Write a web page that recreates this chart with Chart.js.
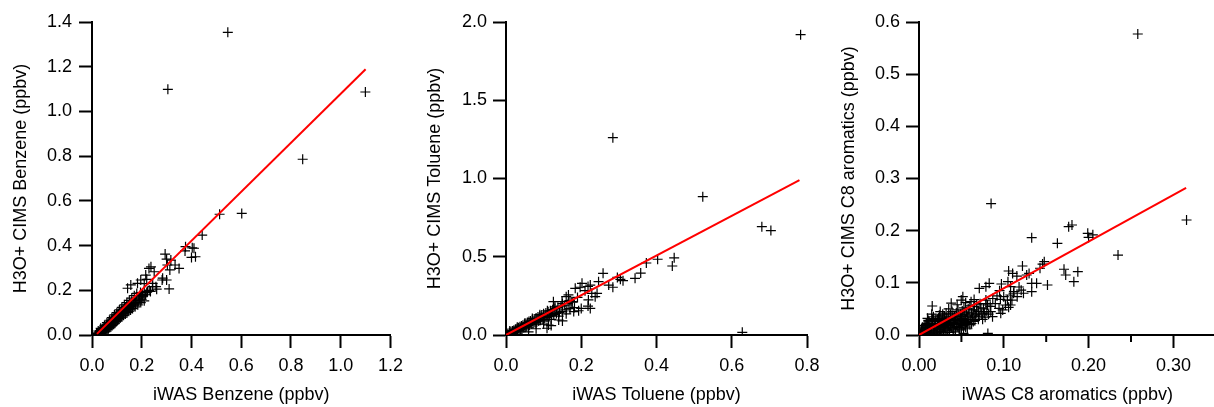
<!DOCTYPE html>
<html>
<head>
<meta charset="utf-8">
<script src="https://cdn.jsdelivr.net/npm/chart.js@4/dist/chart.umd.min.js"></script>
<style>
html,body{margin:0;padding:0;background:#fff;width:1214px;height:407px;overflow:hidden;position:relative;}
canvas{position:absolute;top:0;}
</style>
</head>
<body>
<canvas id="c1" width="410" height="407" style="left:0px"></canvas>
<canvas id="c2" width="420" height="407" style="left:410px"></canvas>
<canvas id="c3" width="402" height="407" style="left:820px"></canvas>
<script>
// ---------- Panel 1: Benzene ----------
const benzeneTitleX = "iWAS Benzene (ppbv)";
const benzeneTitleY = "H3O+ CIMS Benzene (ppbv)";
const benzeneXTicks = [0, 0.2, 0.4, 0.6, 0.8, 1.0, 1.2];
const benzeneYTicks = [0, 0.2, 0.4, 0.6, 0.8, 1.0, 1.2, 1.4];
const benzeneDense = [
[0.015,0.0],[0.018,0.006],[0.02,-0.002],[0.022,0.008],[0.024,0.002],[0.026,0.01],[0.027,0.0],[0.029,0.006],[0.03,0.015],[0.032,0.003],
[0.033,0.018],[0.035,0.008],[0.036,0.022],[0.038,0.013],[0.04,0.004],[0.041,0.026],[0.043,0.017],[0.045,0.03],[0.046,0.01],[0.048,0.022],
[0.05,0.034],[0.051,0.017],[0.053,0.027],[0.055,0.038],[0.056,0.018],[0.058,0.031],[0.06,0.045],[0.061,0.025],[0.063,0.037],[0.065,0.049],
[0.066,0.028],[0.068,0.041],[0.07,0.056],[0.071,0.033],[0.073,0.045],[0.075,0.06],[0.076,0.037],[0.078,0.05],[0.08,0.066],[0.081,0.042],
[0.083,0.056],[0.085,0.072],[0.087,0.048],[0.088,0.063],[0.09,0.078],[0.092,0.053],[0.094,0.069],[0.095,0.083],[0.097,0.06],[0.099,0.075],
[0.1,0.09],[0.102,0.065],[0.104,0.082],[0.106,0.096],[0.108,0.071],[0.11,0.088],[0.112,0.101],[0.114,0.077],[0.116,0.093],[0.118,0.108],
[0.12,0.08],[0.122,0.098],[0.125,0.114],[0.127,0.088],[0.129,0.105],[0.132,0.12],[0.134,0.094],[0.136,0.111],[0.139,0.127],[0.141,0.1],
[0.143,0.118],[0.146,0.134],[0.148,0.106],[0.15,0.124],[0.153,0.14],[0.155,0.112],[0.158,0.131],[0.16,0.147],[0.163,0.118],[0.166,0.138],
[0.17,0.155],[0.173,0.126],[0.176,0.144],[0.18,0.162],[0.184,0.135],[0.188,0.152],[0.192,0.17],[0.196,0.145],[0.2,0.16],[0.205,0.175],[0.21,0.153],
[0.025,0.018],[0.03,-0.003],[0.035,0.03],[0.04,0.016],[0.045,0.02],[0.05,0.043],[0.055,0.026],[0.06,0.055],[0.065,0.037],[0.07,0.066],
[0.075,0.048],[0.08,0.078],[0.085,0.058],[0.09,0.09],[0.095,0.066],[0.1,0.1],[0.105,0.074],[0.11,0.112],[0.115,0.085],[0.12,0.124],
[0.125,0.095],[0.13,0.135],[0.135,0.104],[0.14,0.145],[0.145,0.113],[0.15,0.155],[0.155,0.127],[0.16,0.165],[0.165,0.133],[0.17,0.176],
[0.175,0.142],[0.18,0.186],[0.19,0.17],[0.195,0.19],[0.2,0.18],[0.21,0.195],[0.215,0.18],[0.22,0.19],[0.23,0.2]
];
const benzeneSparse = [
[0.546,1.354],[0.305,1.099],[1.099,1.087],[0.847,0.786],[0.602,0.544],[0.513,0.540],[0.443,0.447],[0.376,0.395],[0.374,0.376],[0.403,0.39],
[0.41,0.388],[0.416,0.35],[0.40,0.347],[0.294,0.362],[0.30,0.339],[0.317,0.335],[0.334,0.313],[0.35,0.298],[0.303,0.313],[0.313,0.291],
[0.284,0.254],[0.30,0.246],[0.31,0.206],[0.25,0.283],[0.237,0.305],[0.244,0.231],[0.257,0.216],[0.229,0.298],[0.216,0.268],[0.196,0.246],
[0.183,0.231],[0.156,0.224],[0.143,0.209],[0.243,0.216],[0.282,0.246],[0.223,0.194],[0.203,0.179],[0.26,0.205],[0.235,0.195],[0.21,0.23],[0.22,0.249]
];
const benzeneFit = [[0.02,0.005],[1.1,1.189]];

// ---------- Panel 2: Toluene ----------
const tolueneTitleX = "iWAS Toluene (ppbv)";
const tolueneTitleY = "H3O+ CIMS Toluene (ppbv)";
const tolueneXTicks = [0, 0.2, 0.4, 0.6, 0.8];
const tolueneYTicks = [0, 0.5, 1.0, 1.5, 2.0];
const tolueneDense = [
[0.003,0.002],[0.005,0.01],[0.007,0.0],[0.009,0.015],[0.011,0.006],[0.013,0.02],[0.015,0.01],[0.017,0.026],[0.019,0.014],[0.021,0.03],
[0.023,0.018],[0.025,0.036],[0.027,0.022],[0.029,0.04],[0.031,0.028],[0.033,0.046],[0.035,0.03],[0.037,0.052],[0.039,0.036],[0.041,0.058],
[0.043,0.04],[0.045,0.062],[0.047,0.046],[0.049,0.068],[0.051,0.05],[0.053,0.074],[0.055,0.055],[0.057,0.08],[0.059,0.06],[0.061,0.086],
[0.063,0.064],[0.065,0.09],[0.067,0.07],[0.07,0.096],[0.072,0.075],[0.075,0.102],[0.077,0.08],[0.08,0.108],[0.082,0.085],[0.085,0.115],
[0.087,0.09],[0.09,0.122],[0.092,0.095],[0.095,0.128],[0.098,0.1],[0.1,0.135],[0.103,0.108],[0.106,0.14],[0.109,0.112],[0.112,0.148],
[0.115,0.118],[0.118,0.155],[0.121,0.125],[0.124,0.162],[0.127,0.13],[0.13,0.17],[0.134,0.138],[0.138,0.176],[0.142,0.145],[0.146,0.185],
[0.15,0.15],[0.155,0.19],[0.16,0.16],[0.165,0.2],[0.17,0.168],[0.176,0.21],[0.182,0.175],
[0.01,0.025],[0.02,0.005],[0.03,0.05],[0.04,0.025],[0.05,0.075],[0.06,0.045],[0.07,0.105],[0.08,0.07],[0.09,0.13],[0.1,0.09],
[0.11,0.155],[0.12,0.1],[0.13,0.18],[0.14,0.12],[0.15,0.2],[0.16,0.135],[0.17,0.22],[0.18,0.15],[0.19,0.24],[0.2,0.17],
[0.12,0.06],[0.15,0.09],[0.1,0.07],[0.08,0.04],[0.06,0.02]
];
const tolueneSparse = [
[0.783,1.919],[0.284,1.261],[0.523,0.884],[0.680,0.692],[0.704,0.667],[0.628,0.017],[0.447,0.493],[0.442,0.441],[0.403,0.484],[0.373,0.46],
[0.358,0.396],[0.343,0.362],[0.304,0.356],[0.311,0.347],[0.296,0.368],[0.258,0.394],[0.246,0.341],[0.273,0.319],[0.284,0.305],[0.242,0.266],
[0.237,0.245],[0.228,0.266],[0.224,0.319],[0.224,0.17],[0.202,0.33],[0.197,0.305],[0.218,0.31],[0.21,0.283],[0.219,0.224],[0.184,0.298],
[0.166,0.256],[0.16,0.245],[0.149,0.213],[0.175,0.213],[0.126,0.213],[0.193,0.155],[0.218,0.185],[0.14,0.096],[0.113,0.064],[0.109,0.043]
];
const tolueneFit = [[0.0,0.0],[0.78,0.99]];

// ---------- Panel 3: C8 aromatics ----------
const c8TitleX = "iWAS C8 aromatics (ppbv)";
const c8TitleY = "H3O+ CIMS C8 aromatics (ppbv)";
const c8XTicks = [0, 0.10, 0.20, 0.30];
const c8XMinorTicks = [0.05, 0.15, 0.25];
const c8YTicks = [0, 0.1, 0.2, 0.3, 0.4, 0.5, 0.6];
const c8Dense = [
[0.002,0.003],[0.003,0.012],[0.004,0.0],[0.005,0.008],[0.006,0.018],[0.007,0.004],[0.008,0.012],[0.009,0.022],[0.01,0.006],[0.011,0.015],
[0.012,0.025],[0.013,0.002],[0.014,0.01],[0.015,0.02],[0.016,0.03],[0.017,0.008],[0.018,0.016],[0.019,0.026],[0.02,0.004],[0.021,0.013],
[0.022,0.022],[0.023,0.032],[0.024,0.01],[0.025,0.018],[0.026,0.028],[0.027,0.006],[0.028,0.015],[0.029,0.024],[0.03,0.036],[0.031,0.012],
[0.032,0.02],[0.033,0.03],[0.034,0.008],[0.035,0.017],[0.036,0.027],[0.037,0.04],[0.038,0.014],[0.039,0.022],[0.04,0.033],[0.041,0.01],
[0.042,0.02],[0.043,0.03],[0.044,0.042],[0.045,0.016],[0.046,0.025],[0.047,0.036],[0.048,0.012],[0.049,0.022],[0.05,0.032],[0.051,0.046],
[0.052,0.018],[0.053,0.028],[0.054,0.04],[0.055,0.015],[0.056,0.024],[0.057,0.035],[0.058,0.05],[0.06,0.02],[0.061,0.03],[0.062,0.042],
[0.064,0.026],[0.065,0.055],[0.066,0.036],[0.068,0.046],[0.07,0.03],[0.072,0.06],[0.074,0.04],[0.076,0.05],[0.078,0.034],[0.08,0.045],
[0.001,0.006],[0.003,0.0],[0.004,0.015],[0.006,0.002],[0.007,0.01],[0.008,0.02],[0.009,0.0],[0.01,0.014],[0.011,0.028],[0.012,0.008],
[0.013,0.018],[0.014,0.004],[0.015,0.013],[0.016,0.022],[0.017,0.035],[0.018,0.006],[0.019,0.018],[0.02,0.028],[0.021,0.002],[0.022,0.01],
[0.023,0.02],[0.024,0.038],[0.025,0.006],[0.026,0.014],[0.027,0.024],[0.028,0.034],[0.029,0.004],[0.03,0.016],[0.031,0.026],[0.032,0.042],
[0.033,0.01],[0.034,0.022],[0.035,0.032],[0.036,0.005],[0.037,0.018],[0.038,0.028],[0.039,0.045],[0.04,0.012],[0.041,0.024],[0.042,0.036],
[0.043,0.006],[0.044,0.02],[0.045,0.03],[0.046,0.048],[0.047,0.014],[0.048,0.028],[0.049,0.04],[0.05,0.01],[0.051,0.025],[0.052,0.036],
[0.053,0.052],[0.054,0.02],[0.055,0.03],[0.056,0.044],[0.057,0.012],[0.058,0.026],[0.059,0.038],[0.06,0.056],[0.062,0.022],[0.063,0.034],
[0.064,0.048],[0.066,0.028],[0.067,0.04],[0.068,0.058],[0.07,0.045],[0.071,0.036],[0.073,0.052],[0.075,0.03],[0.077,0.042],[0.079,0.06],
[0.082,0.04],[0.084,0.055],[0.087,0.07],[0.09,0.06],[0.092,0.075],[0.095,0.085],[0.015,0.04],[0.025,0.045],[0.035,0.05],[0.045,0.058],
[0.055,0.062],[0.065,0.068],[0.022,0.03],[0.028,0.04],[0.01,0.032]
];
const c8Sparse = [
[0.258,0.577],[0.085,0.252],[0.3155,0.2204],[0.2347,0.1533],[0.1765,0.2076],[0.1804,0.2109],[0.199,0.195],[0.205,0.192],[0.2,0.187],[0.1329,0.1866],
[0.1632,0.1757],[0.1477,0.1405],[0.1457,0.136],[0.1427,0.128],[0.171,0.126],[0.173,0.115],[0.1873,0.1214],[0.1826,0.1022],[0.122,0.1323],[0.1057,0.1227],
[0.1104,0.118],[0.1154,0.113],[0.127,0.115],[0.1298,0.118],[0.1329,0.099],[0.1387,0.099],[0.1515,0.0958],[0.1329,0.083],[0.1205,0.086],[0.1232,0.08],
[0.1115,0.08],[0.1077,0.0767],[0.118,0.092],[0.1049,0.1022],[0.0972,0.0978],[0.0999,0.0734],[0.096,0.0684],[0.1096,0.067],[0.1019,0.0575],[0.1057,0.053],
[0.0987,0.048],[0.0156,0.0556],[0.038,0.061],[0.0498,0.067],[0.0517,0.0734],[0.0614,0.0639],[0.0653,0.0543],[0.0711,0.0895],[0.0789,0.0926],[0.0828,0.099],
[0.0789,0.067],[0.0809,0.0575],[0.0847,0.0447],[0.0867,0.0351],[0.0944,0.0512],[0.0964,0.0416],[0.1042,0.067],[0.108,0.0575],[0.108,0.0926],[0.1119,0.083],
[0.1158,0.0734],[0.0525,0.003],[0.0812,0.003]
];
const c8Fit = [[0.0,0.0],[0.315,0.282]];

// ---------- Drawing ----------
const FONT = "'Liberation Sans', Arial, Helvetica, sans-serif";
const toXY = arr => arr.map(p => ({x: p[0], y: p[1]}));

const minorTickPlugin = {
  id: 'minorTicks',
  afterDraw(chart, args, opts) {
    if (!opts || !opts.values) return;
    const sx = chart.scales.x, ctx = chart.ctx, b = chart.chartArea.bottom;
    ctx.save();
    ctx.strokeStyle = '#000';
    ctx.lineWidth = 2;
    opts.values.forEach(v => {
      const px = sx.getPixelForValue(v);
      ctx.beginPath(); ctx.moveTo(px, b); ctx.lineTo(px, b + 7); ctx.stroke();
    });
    ctx.restore();
  }
};

function makeChart(id, cfg) {
  const axisCommon = (ticks, dec, title, titlePad, pad) => ({
    type: 'linear',
    min: ticks[0],
    afterBuildTicks: s => { s.ticks = ticks.map(v => ({value: v})); },
    ticks: {
      autoSkip: false, maxRotation: 0, padding: pad, color: '#000',
      font: {family: FONT, size: 18},
      callback: v => Number(v).toFixed(dec)
    },
    grid: {drawOnChartArea: false, drawTicks: true, tickLength: 13, tickColor: '#000', tickWidth: 2},
    border: {display: true, color: '#000', width: 2},
    title: {display: true, text: title, color: '#000', font: {family: FONT, size: 18}, padding: titlePad}
  });
  const xAxis = axisCommon(cfg.xTicks, cfg.xDec, cfg.xTitle, {top: 0, bottom: 1.6}, 7);
  xAxis.max = cfg.xMax; xAxis.position = 'bottom';
  xAxis.afterFit = s => { s.height = 72; };
  const yAxis = axisCommon(cfg.yTicks, cfg.yDec, cfg.yTitle, {top: cfg.yTitlePad, bottom: 0}, cfg.yPad);
  yAxis.max = cfg.yMax; yAxis.position = 'left';
  yAxis.afterFit = s => { s.width = cfg.yWidth; };

  return new Chart(document.getElementById(id), {
    type: 'scatter',
    data: {
      datasets: [
        {type: 'line', data: toXY(cfg.fit), borderColor: '#ff0000', borderWidth: 2, pointRadius: 0, fill: false, tension: 0},
        {data: toXY(cfg.sparse.concat(cfg.dense)), pointStyle: 'cross', pointRadius: 5, borderColor: '#000', borderWidth: 1.2, backgroundColor: 'rgba(0,0,0,0)'}
      ]
    },
    options: {
      responsive: false, animation: false, devicePixelRatio: 1,
      layout: {padding: {top: 22, right: cfg.padRight, bottom: 0, left: 0}},
      plugins: {legend: {display: false}, tooltip: {enabled: false}, minorTicks: {values: cfg.minor || null}},
      scales: {x: xAxis, y: yAxis}
    },
    plugins: [minorTickPlugin]
  });
}

makeChart('c1', {xTicks: benzeneXTicks, xMax: 1.2, xDec: 1, xTitle: benzeneTitleX,
  yTicks: benzeneYTicks, yMax: 1.4, yDec: 1, yTitle: benzeneTitleY, yTitlePad: 10.7, yPad: 7, yWidth: 92,
  padRight: 16, dense: benzeneDense, sparse: benzeneSparse, fit: benzeneFit});
makeChart('c2', {xTicks: tolueneXTicks, xMax: 0.8, xDec: 1, xTitle: tolueneTitleX,
  yTicks: tolueneYTicks, yMax: 2.0, yDec: 1, yTitle: tolueneTitleY, yTitlePad: 14.7, yPad: 6, yWidth: 96,
  padRight: 23, dense: tolueneDense, sparse: tolueneSparse, fit: tolueneFit});
makeChart('c3', {xTicks: c8XTicks, xMax: 0.35, xDec: 2, xTitle: c8TitleX,
  yTicks: c8YTicks, yMax: 0.6, yDec: 1, yTitle: c8TitleY, yTitlePad: 18.2, yPad: 6, yWidth: 99,
  padRight: 1, dense: c8Dense, sparse: c8Sparse, fit: c8Fit, minor: c8XMinorTicks});
</script>
</body>
</html>
